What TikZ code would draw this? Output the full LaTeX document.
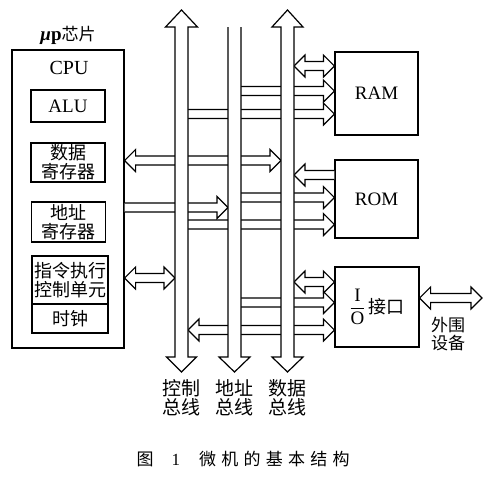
\documentclass[tikz,border=0pt]{standalone}
\usepackage{amsmath}
\usepackage{fontspec}
\setmainfont{Liberation Serif}
\newfontfamily\cjk{Noto Sans CJK SC}
\newfontfamily\cjkcap{Noto Sans CJK SC}[LetterSpace=31]
\usetikzlibrary{positioning,calc}

% hollow arrows: head at #2 / head at #1 / heads at both ends
\newcommand\fatR[2]{\draw[fatarrow] let \p1=(#1), \p2=(#2) in
  (\x1,\y1+4.5pt) -- (\x2-11pt,\y1+4.5pt) -- (\x2-11pt,\y1+11pt) -- (\x2,\y1)
  -- (\x2-11pt,\y1-11pt) -- (\x2-11pt,\y1-4.5pt) -- (\x1,\y1-4.5pt);}
\newcommand\fatL[2]{\draw[fatarrow] let \p1=(#1), \p2=(#2) in
  (\x2,\y1+4.5pt) -- (\x1+11pt,\y1+4.5pt) -- (\x1+11pt,\y1+11pt) -- (\x1,\y1)
  -- (\x1+11pt,\y1-11pt) -- (\x1+11pt,\y1-4.5pt) -- (\x2,\y1-4.5pt);}
\newcommand\fatLR[2]{\draw[fatarrow] let \p1=(#1), \p2=(#2) in
  (\x1,\y1) -- (\x1+11pt,\y1+11pt) -- (\x1+11pt,\y1+4.5pt) -- (\x2-11pt,\y1+4.5pt)
  -- (\x2-11pt,\y1+11pt) -- (\x2,\y1) -- (\x2-11pt,\y1-11pt) -- (\x2-11pt,\y1-4.5pt)
  -- (\x1+11pt,\y1-4.5pt) -- (\x1+11pt,\y1-11pt) -- cycle;}

\begin{document}
\begin{tikzpicture}[x=1pt, y=-1pt, line width=1.2pt,
    box/.style={draw, inner sep=0pt, align=center},
    lat/.style={font=\fontsize{19}{20}\selectfont},
    zh/.style={font=\cjk\fontsize{18}{19}\selectfont, align=center},
    fatarrow/.style={draw, fill=white, line join=miter},
    bus/.style={draw, fill=white, line join=miter}]
    \useasboundingbox (0,0) rectangle (500,483);

    % bus positions
    \coordinate (cbL) at (175,0); \coordinate (cbR) at (188,0);
    \coordinate (abL) at (228,0); \coordinate (abR) at (241,0);
    \coordinate (dbL) at (281,0); \coordinate (dbR) at (294,0);
    \coordinate (cbtop) at (181.5,10); \coordinate (cbbot) at (181.5,372);
    \coordinate (abbot) at (234.5,372);
    \coordinate (dbtop) at (287.5,10); \coordinate (dbbot) at (287.5,372);
    \coordinate (per) at (482,0);

    % CPU chip
    \node[box, minimum width=112pt, minimum height=298pt] (cpu) at (68,199) {};
    \node[above=1pt of cpu.north] (chip) {\fontsize{19}{20}\selectfont\textbf{\textit{μ}p}{\cjk\fontsize{17}{18}\selectfont 芯片}};
    \node[lat, font=\fontsize{20}{21}\selectfont] (cpulbl) at (69,68) {CPU};
    \node[box, lat, minimum width=74pt, minimum height=32pt] (alu) at (68,106) {ALU};
    \node[box, zh, minimum width=74pt, minimum height=39pt] (dreg) at (68,162.5) {数据\\寄存器};
    \node[box, zh, minimum width=74pt, minimum height=40pt] (areg) at (68.5,222) {地址\\寄存器};
    \node[box, zh, minimum width=76pt, minimum height=48pt] (ctrl) at (70,280) {指令执行\\控制单元};
    \node[box, zh, minimum width=76pt, minimum height=29pt] (clk) at (70,318.5) {时钟};

    % memories and interface
    \node[box, lat, minimum width=83pt, minimum height=83pt] (ram) at (376.5,93.5) {RAM};
    \node[box, lat, minimum width=83pt, minimum height=78pt] (rom) at (376.5,199) {ROM};
    \node[box, lat, minimum width=84pt, minimum height=80pt] (io) at (377,307)
        {$\dfrac{\text{I}}{\text{O}}$\,{\cjk\fontsize{18}{19}\selectfont 接口}};

    % CPU to buses
    \fatLR{cpu.east |- 0,160.5}{dbL}
    \fatR{cpu.east |- 0,207.5}{abL}
    \fatLR{cpu.east |- 0,278}{cbL}

    % RAM
    \fatLR{dbR |- 0,66}{ram.west}
    \fatR{abR |- 0,91}{ram.west}
    \fatR{cbR |- 0,114}{ram.west}

    % ROM
    \fatL{dbR |- 0,175}{rom.west}
    \fatR{abR |- 0,197.5}{rom.west}
    \fatR{cbR |- 0,224.5}{rom.west}

    % I/O
    \fatLR{dbR |- 0,282}{io.west}
    \fatR{abR |- 0,302.5}{io.west}
    \fatLR{cbR |- 0,330}{io.west}
    \fatLR{io.east |- 0,298}{per}
    \node[zh, font=\cjk\fontsize{17}{18}\selectfont] (perlbl) at (448,334) {外围\\设备};

    % buses
    \draw[bus] (175,27) -- (165.5,27) -- (cbtop) -- (197.5,27) -- (188,27) -- (188,357)
        -- (196.5,357) -- (cbbot) -- (166.5,357) -- (175,357) -- cycle;
    \draw[bus] (228,27) -- (228,357) -- (219,357) -- (abbot) -- (250,357) -- (241,357) -- (241,27);
    \draw[bus] (281,27) -- (272,27) -- (dbtop) -- (303,27) -- (294,27) -- (294,357)
        -- (303,357) -- (dbbot) -- (272,357) -- (281,357) -- cycle;
    \node[zh, font=\cjk\fontsize{19}{19}\selectfont, below=4pt of cbbot] (cbname) {控制\\总线};
    \node[zh, font=\cjk\fontsize{19}{19}\selectfont, below=4pt of abbot] (abname) {地址\\总线};
    \node[zh, font=\cjk\fontsize{19}{19}\selectfont, below=4pt of dbbot] (dbname) {数据\\总线};

    % caption
    \node[anchor=west, inner sep=0pt] (cap) at (136,459)
        {\cjkcap\fontsize{17}{18}\selectfont 图\hspace{18pt}{\rmfamily 1}\hspace{19pt}微机的基本结构};
\end{tikzpicture}
\end{document}
